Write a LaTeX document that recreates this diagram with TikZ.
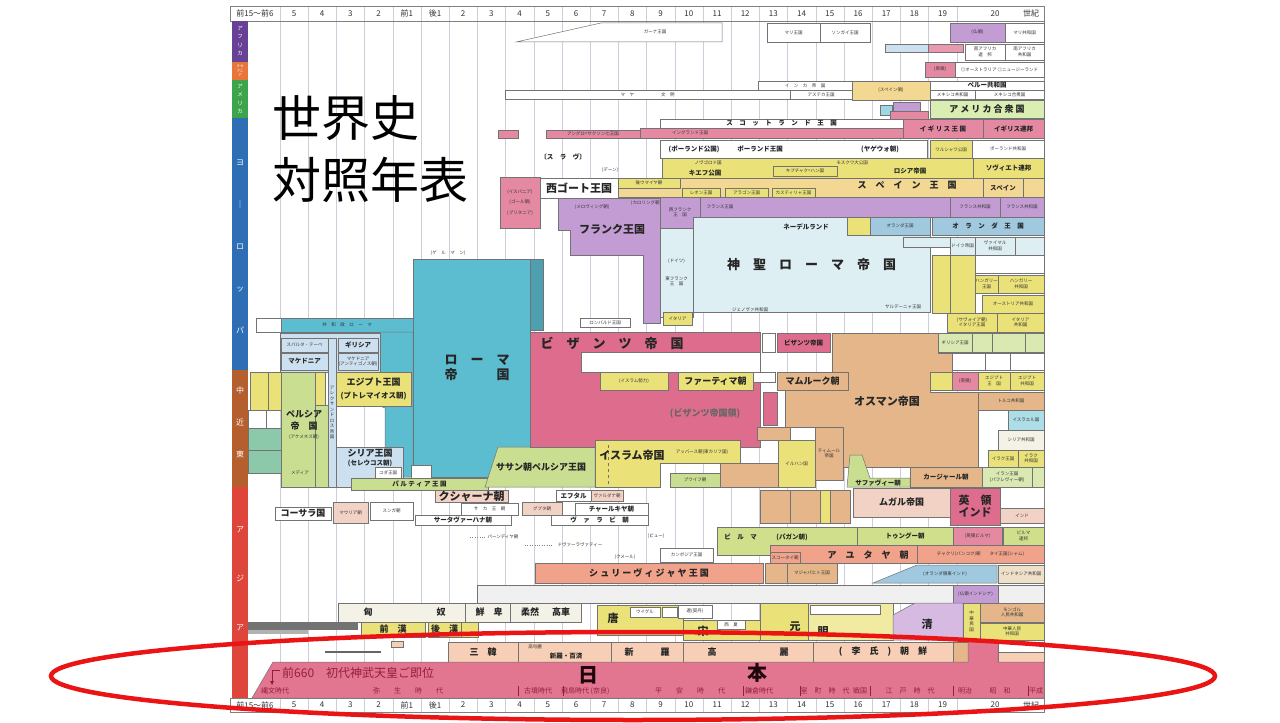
\documentclass[tikz,border=0pt]{standalone}
\usepackage{fontspec}
\setmainfont{Noto Sans CJK JP}
\usetikzlibrary{positioning}

% region colours
\definecolor{afr}{RGB}{104,64,150}
\definecolor{oce}{RGB}{232,118,60}
\definecolor{ame}{RGB}{60,165,75}
\definecolor{eur}{RGB}{45,110,180}
\definecolor{mid}{RGB}{180,95,45}
\definecolor{asi}{RGB}{222,70,60}
% block colours
\definecolor{rome}{RGB}{92,188,208}
\definecolor{pale}{RGB}{222,239,244}
\definecolor{grk}{RGB}{204,224,240}
\definecolor{byz}{RGB}{222,108,140}
\definecolor{jpn}{RGB}{226,118,145}
\definecolor{jpntxt}{RGB}{150,30,60}
\definecolor{frk}{RGB}{196,156,212}
\definecolor{ylw}{RGB}{234,226,120}
\definecolor{otan}{RGB}{228,182,138}
\definecolor{grn}{RGB}{202,222,145}
\definecolor{slm}{RGB}{240,162,138}
\definecolor{kor}{RGB}{247,206,182}
\definecolor{mug}{RGB}{243,210,198}
\definecolor{lgr}{RGB}{218,237,178}
\definecolor{spn}{RGB}{242,216,146}
\definecolor{beige}{RGB}{244,242,230}
\definecolor{dutch}{RGB}{160,200,222}
\definecolor{tgrn}{RGB}{140,200,170}
\definecolor{gridc}{RGB}{205,205,220}
\definecolor{ring}{RGB}{235,20,20}

% one block of the chart, label in the middle
\newcommand{\blok}[8]{%
  \draw[blk,fill=#2] (#3,#4) rectangle (#5,#6);
  \node[#7] (#1) at ({(#3+#5)/2},{(#4+#6)/2}) {#8};}

\begin{document}
\begin{tikzpicture}[x=1pt, y=-1pt,
    blk/.style={draw=black!55, line width=0.5pt},
    tiny/.style={font=\fontsize{4.5}{5.5}\selectfont, text=black!80, inner sep=0pt},
    small/.style={font=\fontsize{6.5}{7.5}\selectfont\bfseries, text=black!85, inner sep=0pt},
    med/.style={font=\fontsize{9}{10}\selectfont\bfseries, text=black!85, inner sep=0pt},
    big/.style={font=\fontsize{11}{12}\selectfont\bfseries, text=black!85, inner sep=0pt},
    huge/.style={font=\fontsize{13}{15}\selectfont\bfseries, text=black!85, inner sep=0pt},
    axl/.style={font=\fontsize{8}{8}\selectfont, text=black!80, inner sep=0pt},
    side/.style={text=white, align=center, inner sep=0pt},
    jp/.style={text=jpntxt, inner sep=0pt},
    ttl/.style={font=\fontsize{49}{55}\selectfont, anchor=west, inner sep=0pt}]

    \fill[white] (0,0) rectangle (1280,720);

    % Century grid
    \foreach \k in {0,...,24}
        \draw[gridc, line width=0.6pt] ({280+28.2*\k},6) -- ({280+28.2*\k},712);
    \draw[black!50] (230,6) rectangle (1044,21);
    \draw[black!50] (230,698) rectangle (1044,712);
    \draw[black!50] (1044,6) -- (1044,712);

    % Century labels, top and bottom
    \node[axl] (top0) at (255,13.5) {前15〜前6};
    \node[axl] (bot0) at (255,705) {前15〜前6};
    \foreach \lab [count=\i from 0] in {5,4,3,2,前1,後1,2,3,4,5,6,7,8,9,10,11,12,13,14,15,16,17,18,19} {
        \node[axl] (top\i) at ({294+28.2*\i},13.5) {\lab};
        \node[axl] (bot\i) at ({294+28.2*\i},705) {\lab};
    }
    \node[axl] (top20) at (995,13.5) {20};
    \node[axl] (topc) at (1031,13.5) {世紀};
    \node[axl] (bot20) at (995,705) {20};
    \node[axl] (botc) at (1031,705) {世紀};

    % Region bar
    \fill[afr] (232,21) rectangle (248,62);
    \fill[oce] (232,62) rectangle (248,80);
    \fill[ame] (232,80) rectangle (248,118);
    \fill[eur] (232,118) rectangle (248,370);
    \fill[mid] (232,370) rectangle (248,487);
    \fill[asi] (232,487) rectangle (248,698);
    \node[side, font=\fontsize{5.5}{8.5}\selectfont] (safr) at (240,41) {ア\\フ\\リ\\カ};
    \node[side, font=\fontsize{3.5}{4.5}\selectfont] (soce) at (240,71) {オセ\\アニ\\ア};
    \node[side, font=\fontsize{5.5}{8.5}\selectfont] (same) at (240,99) {ア\\メ\\リ\\カ};
    \node[side, font=\fontsize{8}{42}\selectfont] (seur) at (240,247) {ヨ\\｜\\ロ\\ッ\\パ};
    \node[side, font=\fontsize{8}{32}\selectfont] (smid) at (240,422) {中\\近\\東};
    \node[side, font=\fontsize{8}{49}\selectfont] (sasi) at (240,579) {ア\\ジ\\ア};

    % Title
    \node[ttl] (tt1) at (272,118) {世界史};
    \node[ttl] (tt2) at (272,180) {対照年表};

    % Africa and Oceania
    \draw[blk,fill=white] (516,42) -- (601,23) -- (722,23) -- (722,42) -- cycle;
    \node[tiny] (ghana) at (655,32) {ガーナ王国};
    \blok{mali}{white}{767}{23}{820}{42}{tiny}{マリ王国}
    \blok{songhai}{white}{820}{23}{870}{42}{tiny}{ソンガイ王国}
    \blok{frafr}{frk}{950}{23}{1005}{42}{tiny}{(仏領)}
    \blok{malir}{white}{1005}{23}{1044}{42}{tiny}{マリ共和国}
    \blok{afa}{grk}{885}{44}{928}{52}{tiny}{}
    \blok{afb}{byz!70}{928}{44}{963}{52}{tiny}{}
    \blok{safu}{white}{965}{44}{1005}{60}{tiny,align=center}{南アフリカ\\連　邦}
    \blok{safc}{white}{1005}{44}{1044}{60}{tiny,align=center}{南アフリカ\\共和国}
    \blok{ukoc}{byz!80}{925}{62}{955}{77}{tiny}{(英領)}
    \blok{ausnz}{white}{955}{62}{1044}{77}{tiny}{◎オーストラリア ◎ニュージーランド}

    % America
    \blok{inca}{white}{758}{81}{852}{90}{tiny}{イ　ン　カ　帝　国}
    \blok{spcol}{spn}{852}{81}{930}{100}{tiny}{(スペイン領)}
    \blok{peru}{white}{930}{81}{1044}{90}{small}{ペルー共和国}
    \blok{maya}{white}{505}{90}{790}{99}{tiny}{マ　ヤ　　　　　　文　明}
    \blok{aztec}{white}{790}{90}{852}{99}{tiny}{アステカ王国}
    \blok{mexa}{white}{930}{90}{975}{99}{tiny}{メキシコ共和国}
    \blok{mexb}{white}{975}{90}{1044}{99}{tiny}{メキシコ合衆国}
    \blok{usa}{lgr}{930}{100}{1044}{118}{med}{ア メ リ カ 合 衆 国}
    \blok{ama}{rome!60}{880}{105}{892}{115}{tiny}{}
    \blok{amb}{frk}{893}{102}{920}{111}{tiny}{}
    \blok{amc}{byz!80}{890}{111}{928}{119}{tiny}{}

    % Europe: British Isles, Poland, Russia
    \blok{celt}{byz!80}{498}{130}{518}{138}{tiny}{}
    \blok{anglo}{byz!80}{546}{130}{640}{138}{tiny}{アングロ=サクソン七王国}
    \blok{scot}{white}{660}{119}{903}{128}{small}{ス　コ　ッ　ト　ラ　ン　ド　王　国}
    \draw[blk,fill=byz!80] (640,128) rectangle (903,138);
    \node[tiny] (engl) at (690,133) {イングランド王国};
    \blok{ukk}{byz!80}{903}{119}{983}{138}{small}{イ ギ リ ス 王 国}
    \blok{ukc}{byz!80}{983}{119}{1044}{138}{small}{イギリス連邦}
    \draw[blk,fill=white] (660,140) rectangle (927,158);
    \node[small] (pola) at (694,149) {(ポーランド公国)};
    \node[small] (polb) at (760,149) {ポーランド王国};
    \node[small] (polc) at (880,149) {(ヤゲウォ朝)};
    \blok{wars}{ylw}{930}{140}{972}{160}{tiny}{ワルシャワ公国}
    \blok{polr}{white}{972}{140}{1044}{158}{tiny}{ポーランド共和国}
    \draw[blk,fill=ylw] (662,158) rectangle (973,178);
    \node[tiny] (novg) at (708,163) {ノヴゴロド国};
    \node[small] (kiev) at (705,173) {キエフ公国};
    \blok{kipc}{ylw}{773}{166}{837}{176}{tiny}{キプチャク=ハン国}
    \node[tiny] (mosk) at (852,163) {モスクワ大公国};
    \node[small] (russ) at (910,171) {ロシア帝国};
    \blok{sov}{ylw}{973}{158}{1044}{178}{small}{ソヴィエト連邦}
    \node[small] (slav) at (563,157) {〔ス　ラ　ヴ〕};
    \node[tiny] (dane) at (610,170) {(デーン)};

    % Europe: Iberia, Franks, France
    \draw[blk,fill=spn] (618,178) rectangle (1044,197);
    \blok{umay}{ylw}{618}{178}{680}{188}{tiny}{後ウマイヤ朝}
    \blok{leon}{ylw}{682}{188}{720}{197}{tiny}{レオン王国}
    \blok{arag}{ylw}{725}{188}{768}{197}{tiny}{アラゴン王国}
    \blok{cast}{ylw}{772}{188}{815}{197}{tiny}{カスティリャ王国}
    \node[med] (spk) at (907,185) {ス　ペ　イ　ン　王　国};
    \blok{spa}{spn}{983}{178}{1023}{197}{small}{スペイン}
    \blok{spb}{spn}{1023}{178}{1044}{197}{tiny}{}
    \blok{prov}{byz!80}{500}{177}{540}{228}{tiny,align=center}{(イスパニア)\\[5pt](ゴール領)\\[5pt](ブリタニア)}
    \blok{visi}{white}{540}{178}{618}{198}{big}{西ゴート王国}
    \draw[blk,fill=frk] (558,198) -- (660,198) -- (660,323) -- (643,323) -- (643,255)
        -- (570,255) -- (570,230) -- (558,230) -- cycle;
    \node[big] (frank) at (612,229) {フランク王国};
    \node[tiny] (mero) at (592,207) {(メロヴィング朝)};
    \node[tiny] (caro) at (646,203) {(カロリング朝)};
    \draw[blk,fill=frk] (660,197) rectangle (1044,217);
    \blok{wfr}{frk}{660}{197}{700}{228}{tiny,align=center}{西フランク\\王　国}
    \node[tiny] (frk2) at (720,207) {フランス王国};
    \blok{frra}{frk}{950}{197}{1000}{217}{tiny}{フランス共和国}
    \blok{frrb}{frk}{1000}{197}{1044}{217}{tiny}{フランス共和国}

    % Europe: Holy Roman Empire and the north-west
    \blok{hre}{pale}{693}{217}{930}{312}{huge}{神　聖　ロ　ー　マ　帝　国}
    \blok{efr}{pale}{660}{228}{693}{317}{tiny,align=center}{(ドイツ)\\[12pt]東フランク\\王　国}
    \node[small] (neth) at (806,227) {ネーデルランド};
    \blok{nla}{ylw}{847}{217}{870}{235}{tiny}{}
    \blok{hola}{dutch}{870}{217}{930}{235}{tiny}{オランダ王国}
    \blok{holb}{dutch}{932}{217}{1044}{235}{small}{オ　ラ　ン　ダ　王　国}
    \node[tiny] (genoa) at (750,310) {ジェノヴァ共和国};
    \node[tiny] (sard) at (903,307) {サルデーニャ王国};
    \blok{dbd}{pale}{903}{237}{950}{247}{tiny}{}
    \blok{dre}{pale}{950}{237}{975}{255}{tiny}{ドイツ帝国}
    \blok{weim}{pale}{975}{237}{1015}{255}{tiny,align=center}{ヴァイマル\\共和国}
    \blok{wx}{pale}{1015}{237}{1044}{255}{tiny}{}
    \blok{czk}{white}{975}{255}{1044}{273}{tiny}{}
    \blok{ausa}{ylw}{932}{255}{950}{313}{tiny}{}
    \blok{ausb}{ylw}{950}{255}{975}{313}{tiny}{}
    \blok{hunk}{ylw}{975}{275}{998}{293}{tiny,align=center}{ハンガリー\\王国}
    \blok{hunr}{ylw}{998}{275}{1044}{293}{tiny,align=center}{ハンガリー\\共和国}
    \blok{ausr}{ylw}{982}{295}{1044}{313}{tiny}{オーストリア共和国}
    \blok{itak}{ylw}{947}{313}{997}{332}{tiny,align=center}{(サヴォイア朝)\\イタリア王国}
    \blok{itar}{ylw}{997}{313}{1044}{332}{tiny,align=center}{イタリア\\共和国}
    \blok{ital}{ylw}{663}{312}{692}{325}{tiny}{イタリア}
    \blok{lomb}{white}{580}{318}{630}{327}{tiny}{ロンバルド王国}

    % Rome, Greece and the ancient Near East
    \node[tiny] (germ) at (448,253) {(ゲ　ル　マ　ン)};
    \blok{rrep}{rome}{281}{318}{413}{332}{tiny}{共　和　政　ロ　ー　マ}
    \blok{rgr}{white}{256}{318}{281}{332}{tiny}{}
    \draw[blk,fill=rome] (380,332) -- (413,332) -- (413,477) -- (385,477) -- (385,408) -- (380,406) -- cycle;
    \draw[blk,fill=rome] (413,259) rectangle (530,477);
    \blok{erome}{rome!85!black}{530}{259}{543}{330}{tiny}{}
    \node[huge, align=center] (romel) at (477,368) {ロ　ー　マ\\帝　　　国};
    \draw[blk,fill=grk] (280,333) rectangle (380,372);
    \blok{spar}{grk}{281}{338}{328}{352}{tiny}{スパルタ・テーベ}
    \blok{grc}{grk}{338}{338}{378}{352}{small}{ギリシア}
    \blok{mac}{grk}{281}{353}{328}{370}{small}{マケドニア}
    \blok{macb}{grk}{338}{353}{378}{370}{tiny,align=center}{マケドニア\\(アンティゴノス朝)}
    \blok{alex}{grk}{328}{338}{336}{487}{tiny,align=center}{ア\\レ\\ク\\サ\\ン\\ド\\ロ\\ス\\帝\\国}
    \blok{egv}{ylw}{315}{372}{325}{405}{tiny}{}
    \blok{egk}{ylw}{336}{372}{411}{406}{med,align=center}{エジプト王国\\[3pt]{\fontsize{7.5}{8}\selectfont(プトレマイオス朝)}}
    \draw[blk,fill=grn] (281,372) rectangle (315,487);
    \draw[blk,fill=grn] (315,405) rectangle (328,487);
    \node[med] (persa) at (304,414) {ペルシア};
    \node[med] (persb) at (304,426) {帝　国};
    \node[tiny] (persc) at (304,437) {(アケメネス朝)};
    \node[tiny] (media) at (300,473) {メディア};
    \blok{la}{ylw}{250}{372}{268}{410}{tiny}{}
    \blok{lb}{ylw}{268}{372}{281}{410}{tiny}{}
    \blok{lc}{white}{248}{410}{266}{428}{tiny}{}
    \blok{ld}{tgrn}{248}{428}{281}{450}{tiny}{}
    \blok{le}{tgrn}{248}{450}{281}{473}{tiny}{}
    \draw[blk,fill=grk] (336,447) rectangle (403,487);
    \node[med] (syra) at (370,453) {シリア王国};
    \node[small] (syrb) at (370,463) {(セレウコス朝)};
    \blok{juda}{white}{375}{467}{401}{478}{tiny}{ユダ王国}
    \blok{jub}{white}{411}{465}{431}{478}{tiny}{}
    \blok{parth}{grn}{351}{478}{488}{490}{small}{パ ル テ ィ ア 王 国}
    \draw[blk,fill=grn] (498,447) -- (595,447) -- (595,487) -- (485,487) -- cycle;
    \node[med] (sasan) at (541,467) {ササン朝ペルシア王国};

    % Byzantium, Islam, Ottomans
    \draw[blk,fill=byz] (530,332) rectangle (760,447);
    \draw[blk,fill=white] (581,352) rectangle (760,372);
    \node[huge] (byzl) at (612,343) {ビ　ザ　ン　ツ　帝　国};
    \blok{latin}{white}{762}{333}{775}{352}{tiny}{}
    \blok{byzb}{byz}{777}{333}{830}{352}{small}{ビザンツ帝国}
    \draw[blk,fill=otan] (832,333) -- (938,333) -- (938,353) -- (952,353) -- (952,372)
        -- (930,372) -- (930,392) -- (978,392) -- (978,467) -- (843,467) -- (843,427)
        -- (785,427) -- (785,390) -- (777,390) -- (777,372) -- (832,372) -- cycle;
    \node[big] (otto) at (887,401) {オスマン帝国};
    \blok{maml}{otan}{777}{372}{848}{390}{med}{マムルーク朝}
    \blok{isl}{ylw}{600}{372}{668}{390}{tiny}{(イスラム勢力)}
    \blok{fat}{ylw}{678}{372}{753}{390}{med}{ファーティマ朝}
    \blok{ayy}{white}{753}{372}{775}{382}{tiny}{}
    \node[med, text=black!60] (byzt) at (705,413) {(ビザンツ帝国領)};
    \blok{nic}{byz}{763}{392}{777}{425}{tiny}{}
    \draw[blk,fill=ylw] (595,440) -- (740,440) -- (740,463) -- (660,463) -- (660,487) -- (595,487) -- cycle;
    \draw[black!55, dashed] (608,445) -- (608,487);
    \node[big] (islem) at (632,455) {イスラム帝国};
    \node[tiny] (abba) at (702,452) {アッバース朝(東カリフ国)};
    \blok{buy}{grn}{670}{473}{720}{487}{tiny}{ブワイフ朝}
    \blok{selj}{otan}{720}{463}{778}{487}{tiny}{}
    \blok{rum}{otan}{757}{427}{790}{440}{tiny}{}
    \blok{ilk}{ylw}{778}{440}{815}{487}{tiny}{イルハン国}
    \blok{tim}{otan}{815}{427}{843}{480}{tiny,align=center}{ティムール\\帝国}
    \draw[blk,fill=grn] (847,487) -- (850,455) -- (862,455) -- (870,478) -- (910,478) -- (910,487) -- cycle;
    \node[small] (safa) at (878,483) {サファヴィー朝};
    \blok{grka}{grn!70}{938}{333}{972}{352}{tiny}{ギリシア王国}
    \blok{grkb}{grn!70}{972}{333}{992}{352}{tiny}{}
    \blok{grkc}{grn!70}{992}{333}{1025}{352}{tiny}{}
    \blok{grkd}{grn!70}{1025}{333}{1044}{352}{tiny}{}
    \blok{rua}{white}{952}{353}{985}{370}{tiny}{}
    \blok{rub}{white}{985}{353}{1010}{370}{tiny}{}
    \blok{ruc}{white}{1010}{353}{1044}{370}{tiny}{}
    \blok{ega}{ylw}{930}{372}{952}{390}{tiny}{}
    \blok{egb}{byz!80}{952}{372}{978}{390}{tiny}{(英領)}
    \blok{egc}{ylw}{978}{372}{1010}{390}{tiny,align=center}{エジプト\\王　国}
    \blok{egd}{ylw}{1010}{372}{1044}{390}{tiny,align=center}{エジプト\\共和国}
    \blok{turk}{otan}{978}{392}{1044}{410}{tiny}{トルコ共和国}
    \blok{isr}{rome!50}{1008}{410}{1044}{430}{tiny}{イスラエル国}
    \blok{syrr}{beige}{998}{430}{1044}{450}{tiny}{シリア共和国}
    \blok{irqa}{ylw}{988}{450}{1018}{467}{tiny}{イラク王国}
    \blok{irqb}{ylw}{1018}{450}{1044}{467}{tiny,align=center}{イラク\\共和国}
    \blok{qaj}{otan}{910}{467}{982}{487}{small}{カージャール朝}
    \blok{iran}{grn!70}{982}{467}{1032}{487}{tiny,align=center}{イラン王国\\(パフレヴィー朝)}
    \blok{irb}{grn!70}{1032}{467}{1044}{487}{tiny}{}

    % India
    \blok{kush}{mug}{435}{490}{508}{502}{big}{クシャーナ朝}
    \blok{saka}{white}{461}{503}{518}{515}{tiny}{サ　カ　王　朝}
    \blok{gupt}{mug}{522}{502}{562}{515}{tiny}{グプタ朝}
    \blok{eph}{white}{556}{490}{591}{501}{small}{エフタル}
    \blok{vard}{mug}{591}{490}{623}{501}{tiny}{ヴァルダナ朝}
    \blok{chal}{white}{575}{503}{648}{515}{small}{チャールキヤ朝}
    \blok{vala}{white}{551}{515}{648}{525}{small}{ヴ　ァ　ラ　ビ　朝}
    \blok{sata}{white}{415}{515}{511}{525}{small}{サータヴァーハナ朝}
    \blok{kosa}{white}{275}{507}{331}{520}{med}{コーサラ国}
    \blok{maur}{mug}{333}{502}{368}{523}{tiny}{マウリア朝}
    \blok{sung}{white}{370}{502}{413}{520}{tiny}{スンガ朝}
    \blok{dla}{otan}{760}{490}{790}{523}{tiny}{}
    \blok{dlb}{otan}{790}{490}{820}{523}{tiny}{}
    \blok{dlc}{ylw}{820}{490}{830}{523}{tiny}{}
    \blok{dld}{otan}{830}{490}{850}{523}{tiny}{}
    \blok{mugh}{mug}{853}{488}{950}{517}{med}{ムガル帝国}
    \blok{brind}{byz}{950}{488}{1000}{525}{big,align=center}{英　領\\インド}
    \blok{ind}{mug}{1000}{508}{1044}{523}{tiny}{インド}

    % South-east Asia
    \node[tiny] (pand) at (503,537) {パーンディヤ朝};
    \node[tiny] (dvar) at (580,545) {ドヴァーラヴァティー};
    \draw[black!50, dotted] (470,537) -- (485,537);
    \draw[black!50, dotted] (525,545) -- (552,545);
    \node[tiny] (pyu) at (656,536) {(ピュー)};
    \node[tiny] (khm) at (625,557) {(クメール)};
    \blok{camb}{white}{660}{548}{713}{562}{tiny}{カンボジア王国}
    \blok{sriv}{slm}{535}{563}{763}{583}{med}{シ ュ リ ー ヴ ィ ジ ャ ヤ 王 国}
    \blok{burm}{grn!80!ylw}{717}{527}{857}{555}{tiny}{}
    \node[small] (burml) at (766,537) {ビ　ル　マ　　　(パガン朝)};
    \blok{toun}{grn!80!ylw}{857}{527}{953}{545}{small}{トゥングー朝}
    \blok{ukb}{byz!80}{953}{527}{1002}{545}{tiny}{(英領ビルマ)}
    \blok{burr}{grn!80!ylw}{1003}{527}{1044}{545}{tiny,align=center}{ビルマ\\連邦}
    \blok{ayut}{slm}{770}{545}{917}{563}{tiny}{}
    \node[med] (ayutl) at (868,555) {ア　ユ　タ　ヤ　朝};
    \blok{suko}{slm}{770}{552}{800}{563}{tiny}{スコータイ朝}
    \blok{chak}{slm}{917}{545}{1044}{563}{tiny}{チャクリ(バンコク)朝　　タイ王国(シャム)}
    \blok{shai}{otan}{765}{563}{787}{583}{tiny}{}
    \blok{maja}{otan}{787}{563}{837}{583}{tiny}{マジャパヒト王国}
    \draw[blk,fill=dutch] (873,583) -- (917,565) -- (997,565) -- (997,583) -- cycle;
    \node[tiny] (deind) at (945,574) {(オランダ領東インド)};
    \blok{indo}{beige!70!otan}{998}{565}{1044}{583}{tiny}{インドネシア共和国}
    \blok{vrow}{black!6}{477}{585}{953}{603}{tiny}{}
    \blok{frind}{frk}{953}{585}{998}{603}{tiny}{(仏領インドシナ)}
    \blok{viet}{black!6}{998}{585}{1044}{603}{tiny}{}

    % Steppe and China
    \blok{xiong}{beige}{338}{603}{581}{622}{tiny}{}
    \draw[black!55] (465,603) -- (465,622);
    \draw[black!55] (510,603) -- (510,622);
    \node[med] (xa) at (368,612) {匈};
    \node[med] (xb) at (441,612) {奴};
    \node[med] (xc) at (489,612) {鮮　卑};
    \node[med] (xd) at (530,612) {柔然};
    \node[med] (xe) at (561,612) {高車};
    \fill[black!55] (248,622) rectangle (358,630);
    \fill[black!30] (248,630) rectangle (308,634);
    \blok{qhan}{ylw}{361}{622}{425}{637}{med}{前　漢}
    \blok{hhan}{ylw}{428}{622}{461}{637}{med}{後　漢}
    \blok{sang}{ylw}{461}{622}{478}{637}{tiny}{}
    \blok{tang}{ylw}{597}{605}{683}{635}{tiny}{}
    \node[big] (tangl) at (613,618) {唐};
    \blok{uyg}{white}{630}{607}{660}{617}{tiny}{ウイグル}
    \blok{tib}{white}{662}{607}{677}{617}{tiny}{}
    \blok{liao}{white}{678}{605}{712}{618}{tiny}{遼(契丹)}
    \blok{song}{ylw}{683}{620}{760}{640}{tiny}{}
    \node[big] (songl) at (703,631) {宋};
    \blok{xixia}{white}{717}{620}{745}{629}{tiny}{西　夏}
    \blok{yuan}{ylw}{760}{603}{808}{640}{tiny}{}
    \node[big] (yuanl) at (795,627) {元};
    \blok{ming}{ylw!70}{808}{603}{893}{640}{tiny}{}
    \blok{chag}{white}{810}{605}{880}{614}{tiny}{}
    \node[big] (mingl) at (823,632) {明};
    \draw[blk,fill=frk!70] (893,640) -- (893,615) -- (915,603) -- (963,603) -- (963,640) -- cycle;
    \node[big] (qing) at (927,624) {清};
    \blok{roc}{ylw}{963}{603}{980}{640}{tiny,align=center}{中\\華\\民\\国}
    \blok{mpr}{otan}{980}{603}{1044}{622}{tiny,align=center}{モンゴル\\人民共和国}
    \blok{prc}{ylw}{980}{623}{1044}{640}{tiny,align=center}{中華人民\\共和国}

    % Korea
    \draw[black!60, line width=1.2pt] (325,652) -- (381,652);
    \blok{lel}{kor}{391}{641}{403}{647}{tiny}{}
    \blok{sanhan}{kor}{448}{642}{518}{662}{med}{三　韓}
    \blok{silbk}{kor}{518}{642}{611}{662}{tiny}{}
    \node[tiny] (kogu) at (535,647) {高句麗};
    \node[small] (sbk) at (566,656) {新羅・百済};
    \blok{silla}{kor}{611}{642}{683}{662}{med}{新　　　羅}
    \blok{gory}{kor}{683}{642}{813}{662}{med}{高　　　　　　　麗}
    \blok{joseon}{kor}{813}{642}{953}{662}{med}{(　李　氏　)　朝　鮮}
    \blok{kemp}{otan}{953}{642}{968}{662}{tiny}{}
    \blok{kra}{white}{998}{642}{1044}{652}{tiny}{}
    \blok{krb}{kor}{998}{652}{1044}{662}{tiny}{}

    % Japan
    \draw[blk,fill=jpn] (273,662) -- (968,662) -- (968,640) -- (998,640) -- (998,662)
        -- (1044,662) -- (1044,698) -- (252,698) -- cycle;
    \draw[jpntxt] (272,681) -- (272,670) -- (280,670);
    \fill[jpntxt] (270,681) -- (274,681) -- (272,685) -- cycle;
    \node[jp, font=\fontsize{12}{12}\selectfont, anchor=west] (jimmu) at (282,673) {前660　初代神武天皇ご即位};
    \node[jp, font=\fontsize{20}{20}\selectfont\bfseries, text=black!80!jpntxt] (nichi) at (588,675) {日};
    \node[jp, font=\fontsize{20}{20}\selectfont\bfseries, text=black!80!jpntxt] (hon) at (757,673) {本};
    \foreach \px/\per in {275/縄文時代, 408/弥　　生　　時　　代, 538/古墳時代, 575/飛鳥時代,
        600/(奈良), 690/平　　安　　時　　代, 759/鎌倉時代, 825/室　町　時　代, 860/戦国,
        910/江　戸　時　代, 965/明治, 1000/昭　和, 1036/平成}
        \node[jp, font=\fontsize{7}{7}\selectfont] (per\px) at (\px,691) {\per};
    \foreach \px in {518,563,743,800,870,953,1028}
        \draw[jpntxt] (\px,686) -- (\px,696);

    % Red ring round Japan
    \draw[ring, line width=4.5pt] (633,676) ellipse [x radius=582pt, y radius=44pt];
\end{tikzpicture}
\end{document}
